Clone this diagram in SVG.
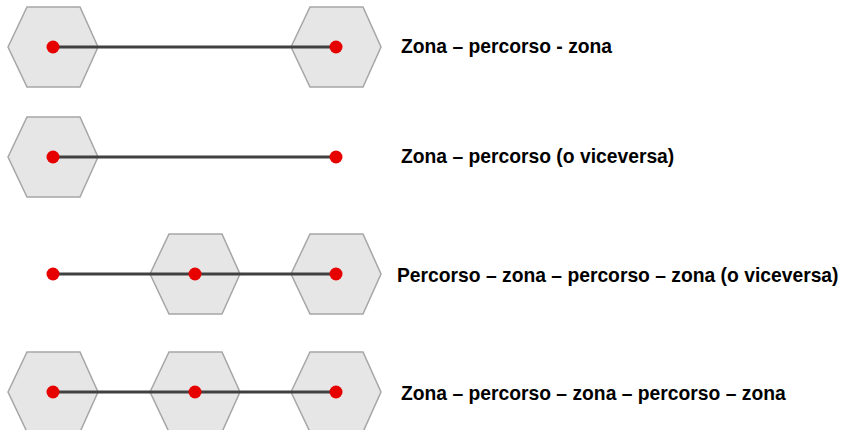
<svg xmlns="http://www.w3.org/2000/svg" width="843" height="430" viewBox="0 0 843 430">
<style>
.hex{fill:#e6e6e6;stroke:#a6a6a6;stroke-width:1.5}
.dot{fill:#e60000}
.ln{stroke:#404040;stroke-width:3;fill:none}
.lbl{font-family:"Liberation Sans",Arial,sans-serif;font-weight:bold;font-size:19.3px;fill:#000}
</style>
<defs>
<polygon id="hx" class="hex" points="-45,0 -26,-40 27,-40 45,0 27,40 -26,40"/>
</defs>
<g id="hexagons">
<g id="r1-zona-a"><use href="#hx" x="53" y="47"/></g>
<g id="r1-zona-b"><use href="#hx" x="336" y="47"/></g>
<g id="r2-zona"><use href="#hx" x="53" y="157"/></g>
<g id="r3-zona-a"><use href="#hx" x="195" y="274"/></g>
<g id="r3-zona-b"><use href="#hx" x="336" y="274"/></g>
<g id="r4-zona-a"><use href="#hx" x="53" y="392"/></g>
<g id="r4-zona-b"><use href="#hx" x="195" y="392"/></g>
<g id="r4-zona-c"><use href="#hx" x="336" y="392"/></g>
</g>
<g id="connectors">
<line class="ln" x1="53" y1="47" x2="336" y2="47"/>
<line class="ln" x1="53" y1="157" x2="336" y2="157"/>
<line class="ln" x1="53" y1="274" x2="336" y2="274"/>
<line class="ln" x1="53" y1="392" x2="336" y2="392"/>
</g>
<g id="points">
<circle class="dot" cx="53" cy="47" r="6.5"/>
<circle class="dot" cx="336" cy="47" r="6.5"/>
<circle class="dot" cx="53" cy="157" r="6.5"/>
<circle class="dot" cx="336" cy="157" r="6.5"/>
<circle class="dot" cx="53" cy="274" r="6.5"/>
<circle class="dot" cx="195" cy="274" r="6.5"/>
<circle class="dot" cx="336" cy="274" r="6.5"/>
<circle class="dot" cx="53" cy="392" r="6.5"/>
<circle class="dot" cx="195" cy="392" r="6.5"/>
<circle class="dot" cx="336" cy="392" r="6.5"/>
</g>
<g id="labels">
<text class="lbl" x="401" y="53">Zona – percorso - zona</text>
<text class="lbl" x="401" y="163">Zona – percorso (o viceversa)</text>
<text class="lbl" x="397" y="282">Percorso – zona – percorso – zona (o viceversa)</text>
<text class="lbl" x="401" y="400">Zona – percorso – zona – percorso – zona</text>
</g>
</svg>
